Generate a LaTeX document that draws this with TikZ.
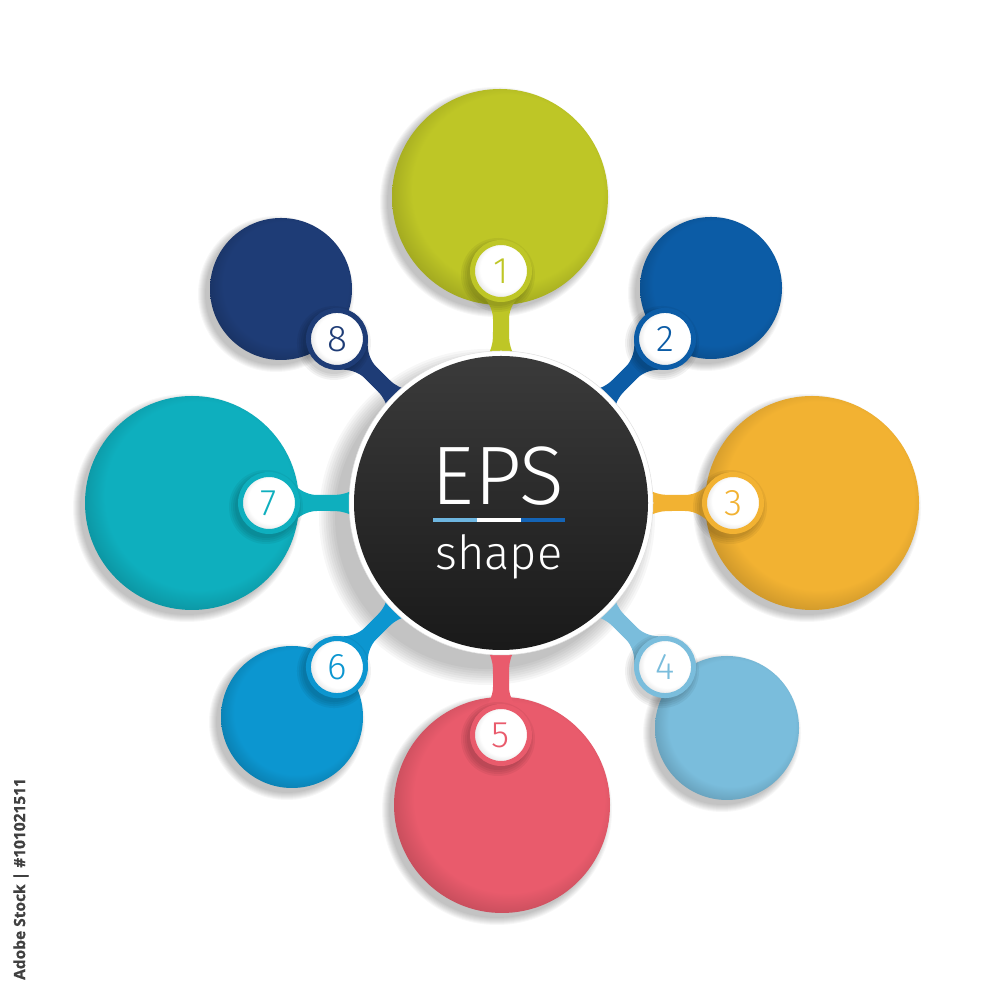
\documentclass[tikz,border=0pt]{standalone}
\usepackage{fontspec}
\newfontfamily\thin{Fira Sans Light}
\newfontfamily\wmfont{Open Sans}[FakeBold=0.7]
\newcommand{\bnumfont}{\thin\fontsize{37}{40}\selectfont}
\definecolor{c1}{RGB}{190,198,38}
\definecolor{c2}{RGB}{12,92,166}
\definecolor{c3}{RGB}{242,178,50}
\definecolor{c4}{RGB}{122,189,220}
\definecolor{c5}{RGB}{233,91,108}
\definecolor{c6}{RGB}{12,150,208}
\definecolor{c7}{RGB}{14,175,190}
\definecolor{c8}{RGB}{30,60,118}
\definecolor{barA}{RGB}{110,182,224}
\definecolor{barB}{RGB}{20,100,182}
\colorlet{puffc}{white}
\pgfdeclareradialshading[puffc]{puff}{\pgfpoint{3bp}{3bp}}{color(0bp)=(puffc); color(22bp)=(puffc); color(29bp)=(puffc!80!black); color(50bp)=(puffc!80!black)}
\pgfdeclareradialshading{wpuff}{\pgfpoint{3bp}{3bp}}{color(0bp)=(white); color(20bp)=(white); color(28bp)=(black!14); color(50bp)=(black!14)}
\pgfdeclarelayer{circlesL}
\pgfdeclarelayer{stemL}
\pgfsetlayers{circlesL,stemL,main}
\newcommand{\sshadow}[5]{%
  \foreach \k in {0,...,7}{\fill[black,opacity=0.03] (#1-#5,#2-#5) circle[radius={#3+#4-\k*#4/7}];}}
\tikzset{
  puffed/.style={/utils/exec={\colorlet{puffc}{#1}}, shading=puff},
  badge/.style={circle, inner sep=0pt, minimum size=57pt, shade, shading=wpuff, draw=#1, line width=5pt, text=#1, font=\bnumfont},
  centerdisc/.style={circle, inner sep=0pt, minimum size=304pt, fill=white, draw=black!12, line width=0.5pt},
  stemline/.style={line width=16pt, #1}
}
\begin{document}
\begin{tikzpicture}[x=1pt,y=1pt]
\useasboundingbox (0,0) rectangle (1000,1000);
\begin{pgfonlayer}{circlesL}
\fill[white] (0,0) rectangle (1000,1000);
\foreach \x/\y/\r/\col in {500/803/108/c1, 711/712/71/c2, 812/497/107/c3, 727/272/72/c4, 502/195/108/c5, 292/283/71/c6, 192/497/107/c7, 281/711/71/c8}{
  \sshadow{\x}{\y}{\r}{7}{5}
  \shade[puffed=\col] (\x,\y) circle (\r);
}
\sshadow{501}{497}{152}{16}{14}
\end{pgfonlayer}
% centre
\node[centerdisc] (c) at (501,497) {};
\shade[top color=black!77, bottom color=black!90] (c.center) circle (147);
\node[anchor=base, text=white, font=\thin\fontsize{83}{90}\selectfont, inner sep=0pt] (eps) at (498,495) {EPS};
\fill[barA] (433,477.5) rectangle (477,481.5);
\fill[white] (477,477.5) rectangle (521,481.5);
\fill[barB] (521,477.5) rectangle (565,481.5);
\node[anchor=base, text=white, font=\thin\fontsize{47}{52}\selectfont, inner sep=0pt] (shp) at (499,430) {shape};
% badges
\foreach \i/\a/\col in {1/90/c1, 2/45/c2, 3/0/c3, 4/-45/c4, 5/-90/c5, 6/-135/c6, 7/180/c7, 8/135/c8}{
  \foreach \k in {0,...,3}{\fill[black,opacity=0.05] ([shift={(\a:232)}]c.center) ++(-3,-4) circle[radius={37-\k*2}];}
  \node[badge=\col] (b\i) at ([shift={(\a:232)}]c.center) {\i};
}
% stems
\begin{pgfonlayer}{stemL}
\foreach \i/\a/\col in {1/90/c1, 2/45/c2, 3/0/c3, 4/-45/c4, 5/-90/c5, 6/-135/c6, 7/180/c7, 8/135/c8}{
  \draw[stemline=\col] (c) -- (b\i);
  \begin{scope}[shift={(c.center)}, rotate=\a]
    \fill[\col] (140,-12) -- (150,-12) .. controls (157,-8.5) and (162,-8) .. (172,-8) -- (184,-8) .. controls (194,-8) and (203.2,-13.8) .. (208.3,-19.9) -- (232,0) -- (208.3,19.9) .. controls (203.2,13.8) and (194,8) .. (184,8) -- (172,8) .. controls (162,8) and (157,8.5) .. (150,12) -- (140,12) -- cycle;
  \end{scope}
}
\end{pgfonlayer}
\node[rotate=90, text=black!75, font=\wmfont\bfseries\fontsize{15.5}{18}\selectfont, inner sep=0pt] (wm) at (21,121) {Adobe Stock | \#101021511};
\end{tikzpicture}
\end{document}
